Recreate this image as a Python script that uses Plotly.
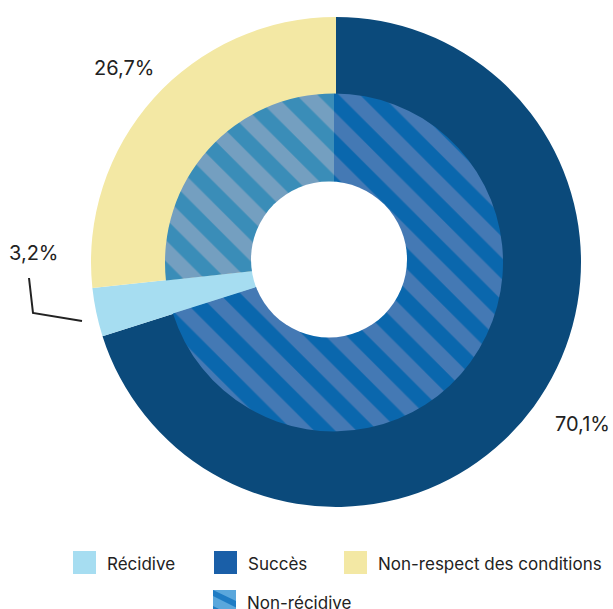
import plotly.graph_objects as go

# ---- data (drawing order: clockwise from 12 o'clock) ----
outer_labels = ["Succès", "Récidive", "Non-respect des conditions"]
outer_values = [70.1, 3.2, 26.7]
outer_colors = ["#0b4a7b", "#a6ddf1", "#f3e8a4"]

# inner ring: "Non-récidive" = Succès + Non-respect (Récidive left empty)
inner_labels = ["Non-récidive (succès)", "Récidive", "Non-récidive (non-respect)"]
inner_values = [70.1, 3.2, 26.7]
inner_bg = ["#0a67ad", "rgba(0,0,0,0)", "#3a8db8"]
inner_fg = ["#4479b4", "rgba(0,0,0,0)", "#749fc0"]
inner_shape = ["\\", "", "\\"]

legend_labels = ["Récidive", "Succès", "Non-respect des conditions", "Non-récidive"]
legend_colors = ["#a6ddf1", "#1a5fa8", "#f3e8a4", "#1f7cc4"]

W, H = 613, 609
OUT_C, R_OUT = (336, 262), 245
IN_C, R_IN = (334, 262.4), 169
HOLE_C, R_HOLE = (329, 259.5), 78


def px_domain(c, r):
    cx, cy = c
    return dict(x=[(cx - r) / W, (cx + r) / W],
                y=[(H - cy - r) / H, (H - cy + r) / H])


def fmt(v):
    return f"{v:.1f}".replace(".", ",") + "%"


fig = go.Figure()
fig.add_trace(go.Pie(
    labels=outer_labels, values=outer_values, sort=False, direction="clockwise",
    rotation=0, hole=0.25, domain=px_domain(OUT_C, R_OUT),
    marker=dict(colors=outer_colors, line=dict(width=0)),
    textinfo="none", hoverinfo="label+percent", showlegend=False,
))
fig.add_trace(go.Pie(
    labels=inner_labels, values=inner_values, sort=False, direction="clockwise",
    rotation=0, hole=0.4, domain=px_domain(IN_C, R_IN),
    marker=dict(colors=inner_bg, line=dict(width=0),
                pattern=dict(shape=inner_shape, fgcolor=inner_fg, bgcolor=inner_bg,
                             size=30, solidity=0.5, fgopacity=1)),
    textinfo="none", hoverinfo="label+percent", showlegend=False,
))

FONT = "Inter, Roboto, Arial, sans-serif"
TXT = "#222222"


def P(x, y):
    return f"{x / W},{1 - y / H}"


annotations = []
# value labels placed outside the ring
label_pos = {"Succès": (582, 424), "Non-respect des conditions": (124, 68), "Récidive": (34, 253)}
for lab, val in zip(outer_labels, outer_values):
    x, y = label_pos[lab]
    annotations.append(dict(x=x / W, y=1 - y / H, xref="paper", yref="paper",
                            text=fmt(val), showarrow=False,
                            font=dict(family=FONT, size=20, color=TXT),
                            xanchor="center", yanchor="middle"))

shapes = []
# white centre of the double ring
hx, hy = HOLE_C
shapes.append(dict(type="circle", xref="paper", yref="paper", layer="above",
                   x0=(hx - R_HOLE) / W, x1=(hx + R_HOLE) / W,
                   y0=1 - (hy - R_HOLE) / H, y1=1 - (hy + R_HOLE) / H,
                   fillcolor="white", line=dict(width=0)))
# leader line for the small slice
shapes.append(dict(type="path", xref="paper", yref="paper",
                   path=f"M{P(29, 278)} L{P(33, 313)} L{P(82, 321)}",
                   line=dict(color=TXT, width=2)))

# manual legend
leg_pos = [(73, 551), (214, 551), (344, 551), (213, 590)]
SW = 23
for lab, col, (x0, y0) in zip(legend_labels, legend_colors, leg_pos):
    shapes.append(dict(type="rect", xref="paper", yref="paper",
                       x0=x0 / W, x1=(x0 + SW) / W, y0=1 - y0 / H, y1=1 - (y0 + SW) / H,
                       fillcolor=col, line=dict(width=0)))
    annotations.append(dict(x=(x0 + SW + 9) / W, y=1 - (y0 + 13) / H, xref="paper", yref="paper",
                            text=lab, showarrow=False, xanchor="left", yanchor="middle",
                            font=dict(family=FONT, size=17, color=TXT)))

# stripes on the "Non-récidive" swatch
x0, y0 = leg_pos[3]
light = "#5aa7dc"
shapes.append(dict(type="path", xref="paper", yref="paper",
                   path=f"M{P(x0, y0)} L{P(x0 + SW, y0)} L{P(x0 + SW, y0 + 11)} Z",
                   fillcolor=light, line=dict(width=0)))
shapes.append(dict(type="path", xref="paper", yref="paper",
                   path=f"M{P(x0, y0 + 6)} L{P(x0 + SW, y0 + 17.5)} L{P(x0 + SW, y0 + SW)} "
                        f"L{P(x0 + 14, y0 + SW)} L{P(x0, y0 + 16)} Z",
                   fillcolor=light, line=dict(width=0)))

fig.update_layout(width=W, height=H, margin=dict(l=0, r=0, t=0, b=0),
                  paper_bgcolor="white", plot_bgcolor="white",
                  showlegend=False, annotations=annotations, shapes=shapes,
                  font=dict(family=FONT))

fig.write_html("out.html", config={"displayModeBar": False},
               post_script="document.body.style.margin='0';document.body.style.overflow='hidden';")
